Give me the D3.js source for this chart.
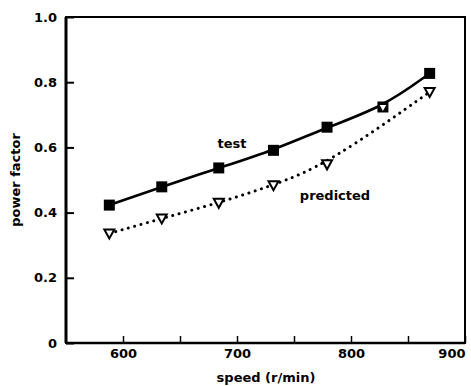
<!DOCTYPE html>
<html><head><meta charset="utf-8">
<script src="https://cdn.jsdelivr.net/npm/d3@7"></script>
<style>
html,body{margin:0;padding:0;background:#fff;}
svg{display:block;}
text{font-family:"DejaVu Sans",sans-serif;font-weight:bold;fill:#000;}
</style></head>
<body>
<script>
const speed = [588, 634, 684, 732, 779, 828, 869];
const testPF = [0.423, 0.479, 0.537, 0.591, 0.662, 0.724, 0.827];
const predictedPF = [0.336, 0.382, 0.430, 0.484, 0.548, 0.722, 0.770];
// the predicted marker at 828 r/min sits on the test square, off the dotted curve
const predictedOffCurve = [5];
const xTicks = [600, 650, 700, 750, 800, 850, 900];
const yTicks = [0, 0.2, 0.4, 0.6, 0.8, 1.0];

const W = 471, H = 386;
const L = 66, R = 465, T = 17, B = 343;
const svg = d3.select("body").append("svg").attr("width", W).attr("height", H);
const x = d3.scaleLinear().domain([550, 900]).range([L, R]);
const y = d3.scaleLinear().domain([0, 1]).range([B, T]);

// frame
svg.append("rect").attr("x", L).attr("y", T).attr("width", R - L).attr("height", B - T)
  .attr("fill", "none").attr("stroke", "#000").attr("stroke-width", 2);
svg.append("line").attr("x1", L).attr("x2", L).attr("y1", T).attr("y2", B)
  .attr("stroke", "#000").attr("stroke-width", 3);
svg.append("line").attr("x1", L).attr("x2", R).attr("y1", B).attr("y2", B)
  .attr("stroke", "#000").attr("stroke-width", 2.5);

// axes
const yAxis = svg.append("g").attr("transform", `translate(${L},0)`)
  .call(d3.axisLeft(y).tickValues(yTicks).tickSize(-8).tickPadding(9)
    .tickFormat(d => d === 0 ? "0" : d3.format(".1f")(d)));
yAxis.select(".domain").remove();
yAxis.selectAll("line").attr("stroke-width", 2);
yAxis.selectAll("text").attr("font-size", 13).attr("font-family", "DejaVu Sans").attr("font-weight", "bold");

const xAxis = svg.append("g").attr("transform", `translate(0,${B})`)
  .call(d3.axisBottom(x).tickValues(xTicks).tickSize(-7).tickPadding(6)
    .tickFormat(d => d % 100 === 0 ? d : ""));
xAxis.select(".domain").remove();
xAxis.selectAll("line").attr("stroke-width", 1.5);
xAxis.selectAll("text").attr("font-size", 13).attr("font-family", "DejaVu Sans").attr("font-weight", "bold");
xAxis.selectAll(".tick").filter(d => d === 900).select("text")
  .attr("text-anchor", "end").attr("x", 0);

// titles
svg.append("text").attr("x", 266).attr("y", 382).attr("text-anchor", "middle")
  .attr("font-size", 13).text("speed (r/min)");
svg.append("text").attr("transform", "translate(20,180) rotate(-90)").attr("text-anchor", "middle")
  .attr("font-size", 13).text("power factor");

// lines
const line = d3.line().curve(d3.curveBasis);
const testPts = speed.map((s, i) => [x(s), y(testPF[i])]);
const predPts = speed.map((s, i) => [x(s), y(predictedPF[i])]);
const predCurvePts = predPts.filter((p, i) => !predictedOffCurve.includes(i));

svg.append("path").attr("d", line(predCurvePts)).attr("fill", "none").attr("stroke", "#000")
  .attr("stroke-width", 3).attr("stroke-linecap", "round").attr("stroke-dasharray", "0.1,6.5");
svg.append("path").attr("d", line(testPts)).attr("fill", "none").attr("stroke", "#000")
  .attr("stroke-width", 2.6);

// markers
svg.append("g").selectAll("rect").data(testPts).join("rect")
  .attr("x", d => d[0] - 5.5).attr("y", d => d[1] - 5.5).attr("width", 11).attr("height", 11)
  .attr("fill", "#000");
svg.append("g").selectAll("path").data(predPts).join("path")
  .attr("d", (d, i) => {
    const s = predictedOffCurve.includes(i) ? 0.65 : 1;
    return `M${d[0] - 5 * s},${d[1] - 4 * s}L${d[0] + 5 * s},${d[1] - 4 * s}L${d[0]},${d[1] + 5 * s}Z`;
  })
  .attr("fill", "#fff").attr("stroke", (d, i) => predictedOffCurve.includes(i) ? "none" : "#000")
  .attr("stroke-width", 2).attr("stroke-linejoin", "miter");

// annotations
svg.append("text").attr("x", 232).attr("y", 148).attr("text-anchor", "middle")
  .attr("font-size", 13).text("test");
svg.append("text").attr("x", 335).attr("y", 200).attr("text-anchor", "middle")
  .attr("font-size", 13).text("predicted");
</script>
</body></html>
